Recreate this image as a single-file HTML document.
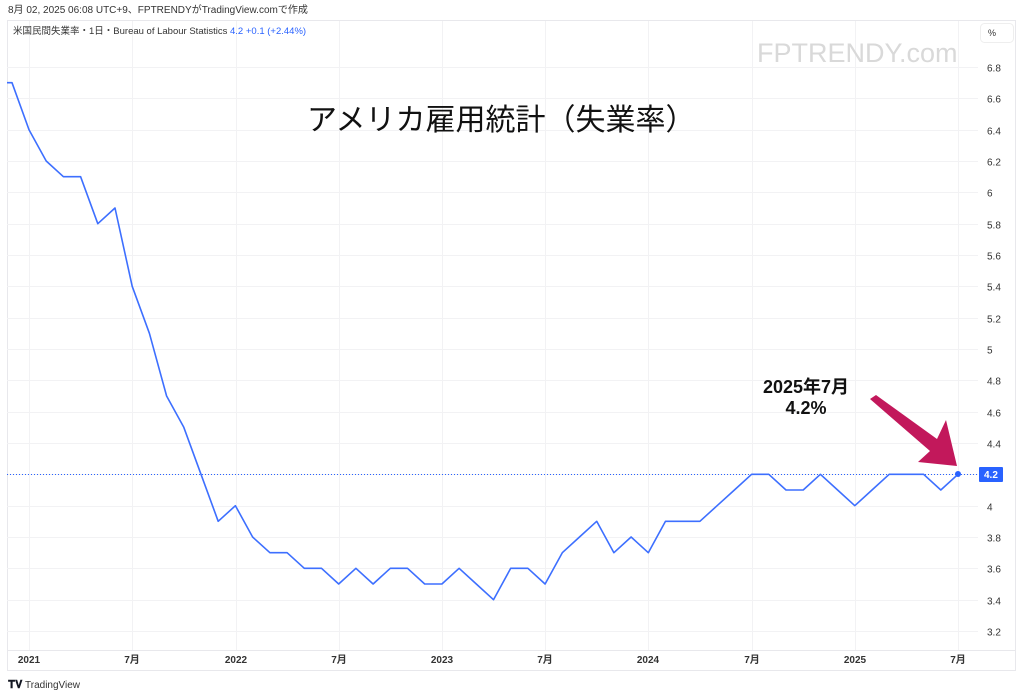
<!DOCTYPE html>
<html><head><meta charset="utf-8"><style>
html,body{margin:0;padding:0;background:#fff;width:1024px;height:697px;overflow:hidden;font-family:"Liberation Sans","Noto Sans CJK JP",sans-serif}
svg text{font-family:"Liberation Sans","Noto Sans CJK JP",sans-serif}
</style></head><body>
<svg id="s" width="1024" height="697" xmlns="http://www.w3.org/2000/svg">
<rect x="7.5" y="20.5" width="1008" height="650" fill="none" stroke="#e8e8ec"/>
<line x1="7" y1="650.5" x2="1015" y2="650.5" stroke="#e8e8ec"/>
<g id="grid"></g>
<text x="8" y="13" font-size="10" fill="#333">8月 02, 2025 06:08 UTC+9、FPTRENDYがTradingView.comで作成</text>
<text x="13" y="34" font-size="9.5" fill="#333">米国民間失業率・1日・Bureau of Labour Statistics <tspan fill="#2962ff">4.2</tspan> <tspan fill="#2962ff">+0.1 (+2.44%)</tspan></text>
<text x="757" y="62" font-size="27" fill="#d9d9d9">FPTRENDY.com</text>
<rect x="980.5" y="23.5" width="33" height="19" rx="4" fill="#fff" stroke="#eee"/>
<text x="988" y="36" font-size="9" fill="#333">%</text>
<text x="307" y="130" font-size="30" fill="#111">アメリカ雇用統計（失業率）</text>
<g id="yl" font-size="10" fill="#333"></g>
<g id="xl" font-size="10" fill="#333" font-weight="bold"></g>
<line x1="7" y1="474.5" x2="978" y2="474.5" stroke="#2962ff" stroke-dasharray="1,2" stroke-width="1"/>
<polyline id="ln" fill="none" stroke="#3d6fff" stroke-width="1.6" stroke-linejoin="round"/>
<circle cx="958" cy="474" r="3" fill="#2962ff"/>
<rect x="979" y="467" width="24" height="15" rx="1" fill="#2962ff"/>
<text x="984" y="478" font-size="10" fill="#fff" font-weight="bold">4.2</text>
<polygon points="870,399 876,395 937,439 946,420 957,466 918,462 930,451" fill="#c2185b"/>
<text x="806" y="393" font-size="18" font-weight="bold" fill="#111" text-anchor="middle">2025年7月</text>
<text x="806" y="414" font-size="18" font-weight="bold" fill="#111" text-anchor="middle">4.2%</text>
<text x="8" y="688" font-size="11" font-weight="bold" fill="#131722">𝐓𝐕</text>
<text x="25" y="688" font-size="10" fill="#333">TradingView</text>
</svg>
<script>
var NS="http://www.w3.org/2000/svg";
function Y(v){return 67+(6.8-v)*156.67;}
var g=document.getElementById('grid'),yl=document.getElementById('yl'),xl=document.getElementById('xl');
function el(t,a,p){var e=document.createElementNS(NS,t);for(var k in a)e.setAttribute(k,a[k]);p.appendChild(e);return e;}
for(var i=0;i<=18;i++){var v=6.8-i*0.2,y=Math.round(Y(v))+0.5;
 el('line',{x1:7,y1:y,x2:978,y2:y,stroke:'#f2f2f4'},g);
 if(Math.abs(v-4.2)>0.01){var t=el('text',{x:987,y:y+4},yl);t.textContent=(Math.round(v*10)/10).toString();}}
var xs=[[29,'2021'],[132,'7月'],[236,'2022'],[339,'7月'],[442,'2023'],[545,'7月'],[648,'2024'],[752,'7月'],[855,'2025'],[958,'7月']];
xs.forEach(function(a){el('line',{x1:a[0]+.5,y1:21,x2:a[0]+.5,y2:650,stroke:'#f2f2f4'},g);var t=el('text',{x:a[0],y:663,'text-anchor':'middle'},xl);t.textContent=a[1];});
var d=[6.4,6.2,6.1,6.1,5.8,5.9,5.4,5.1,4.7,4.5,4.2,3.9,4.0,3.8,3.7,3.7,3.6,3.6,3.5,3.6,3.5,3.6,3.6,3.5,3.5,3.6,3.5,3.4,3.6,3.6,3.5,3.7,3.8,3.9,3.7,3.8,3.7,3.9,3.9,3.9,4.0,4.1,4.2,4.2,4.1,4.1,4.2,4.1,4.0,4.1,4.2,4.2,4.2,4.1,4.2];
var pts=["7,"+Y(6.7),"12,"+Y(6.7)];
d.forEach(function(v,i){pts.push((29+i*(929/54)).toFixed(1)+","+Y(v).toFixed(1));});
document.getElementById('ln').setAttribute('points',pts.join(' '));
</script>
</body></html>
